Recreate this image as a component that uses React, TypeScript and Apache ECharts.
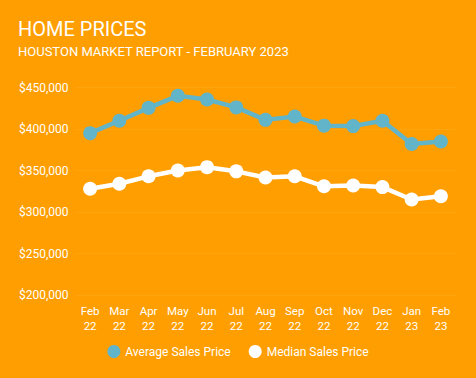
import React, { useEffect, useRef } from "react";
import * as echarts from "echarts";

const categories = ["Feb\n22", "Mar\n22", "Apr\n22", "May\n22", "Jun\n22", "Jul\n22", "Aug\n22", "Sep\n22", "Oct\n22", "Nov\n22", "Dec\n22", "Jan\n23", "Feb\n23"];
const averagePrice = [395000, 410000, 425500, 440000, 435500, 426000, 411000, 415000, 404000, 403500, 410000, 382000, 385000];
const medianPrice = [328000, 334000, 343000, 350000, 354000, 349000, 341500, 343000, 331000, 332000, 330000, 315000, 319000];

export default function App() {
  const ref = useRef<HTMLDivElement>(null);
  useEffect(() => {
    if (!ref.current) return;
    const chart = echarts.init(ref.current, undefined, { renderer: "svg" });
    const font = "Roboto";
    chart.setOption({
      animation: false,
      backgroundColor: "#FF9E00",
      title: {
        text: "HOME PRICES",
        subtext: "HOUSTON MARKET REPORT - FEBRUARY 2023",
        left: 13,
        top: 14,
        itemGap: 6,
        textStyle: { color: "#FFFFFF", fontFamily: font, fontWeight: "normal", fontSize: 20 },
        subtextStyle: { color: "#FFFFFF", fontFamily: font, fontWeight: "normal", fontSize: 13 },
      },
      legend: {
        bottom: 15,
        left: "center",
        icon: "circle",
        itemWidth: 13,
        itemHeight: 13,
        itemGap: 18,
        textStyle: { color: "#FFFFFF", fontFamily: font, fontSize: 12 },
        data: ["Average Sales Price", "Median Sales Price"],
      },
      grid: { left: 75.5, right: 20.5, top: 87.5, bottom: 83, containLabel: false },
      xAxis: {
        type: "category",
        data: categories,
        boundaryGap: true,
        axisLine: { show: false },
        axisTick: { show: false },
        axisLabel: { color: "#FFFFFF", fontFamily: font, fontSize: 11.5, lineHeight: 15, margin: 8, interval: 0 },
      },
      yAxis: {
        type: "value",
        min: 200000,
        max: 450000,
        interval: 50000,
        axisLine: { show: false },
        axisTick: { show: false },
        splitLine: { lineStyle: { color: "rgba(255,255,255,0.06)" } },
        axisLabel: {
          color: "#FFFFFF",
          fontFamily: font,
          fontSize: 12,
          margin: 7,
          formatter: (v: number) => "$" + v.toLocaleString("en-US"),
        },
      },
      series: [
        {
          name: "Average Sales Price",
          type: "line",
          data: averagePrice,
          color: "#62B4C8",
          symbol: "circle",
          symbolSize: 14,
          lineStyle: { width: 4.5, color: "#62B4C8" },
          itemStyle: { color: "#62B4C8" },
        },
        {
          name: "Median Sales Price",
          type: "line",
          data: medianPrice,
          color: "#FFFFFF",
          symbol: "circle",
          symbolSize: 14,
          lineStyle: { width: 4.5, color: "#FFFFFF" },
          itemStyle: { color: "#FFFFFF" },
        },
      ],
    });
    return () => chart.dispose();
  }, []);
  return <div ref={ref} style={{ width: 476, height: 378, position: "absolute", left: 0, top: 0 }} />;
}
